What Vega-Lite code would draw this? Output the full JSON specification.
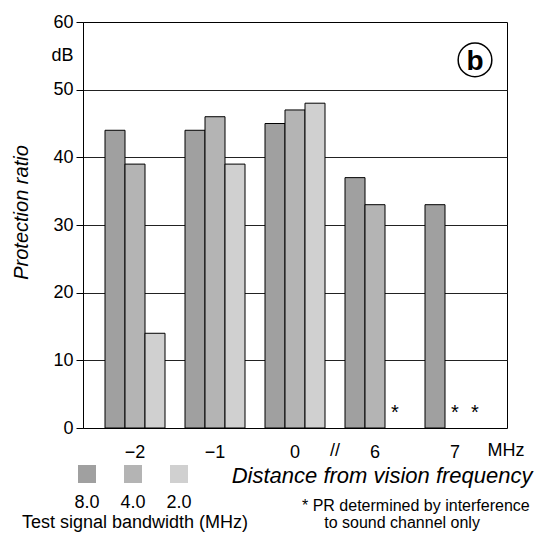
{
  "$schema": "https://vega.github.io/schema/vega-lite/v6.json",
  "width": 424,
  "height": 406,
  "autosize": "none",
  "padding": {"left": 83, "top": 22, "right": 32, "bottom": 106},
  "background": "white",
  "config": {
    "font": "Liberation Sans",
    "view": {"stroke": "black", "strokeWidth": 1},
    "axis": {"labelColor": "black", "titleColor": "black", "labelFont": "Liberation Sans", "titleFont": "Liberation Sans"}
  },
  "title": {
    "text": ["* PR determined by interference", "\u200b\u00a0\u00a0\u00a0\u00a0\u00a0to sound channel only"],
    "orient": "bottom",
    "anchor": "start",
    "frame": "group",
    "dx": 219,
    "offset": -34,
    "fontSize": 16,
    "fontWeight": "normal",
    "font": "Liberation Sans",
    "color": "black",
    "align": "left",
    "lineHeight": 17
  },
  "data": {
    "values": [
      {"dist": "−2", "bw": "8.0", "pr": 44},
      {"dist": "−2", "bw": "4.0", "pr": 39},
      {"dist": "−2", "bw": "2.0", "pr": 14},
      {"dist": "−1", "bw": "8.0", "pr": 44},
      {"dist": "−1", "bw": "4.0", "pr": 46},
      {"dist": "−1", "bw": "2.0", "pr": 39},
      {"dist": "0", "bw": "8.0", "pr": 45},
      {"dist": "0", "bw": "4.0", "pr": 47},
      {"dist": "0", "bw": "2.0", "pr": 48},
      {"dist": "6", "bw": "8.0", "pr": 37},
      {"dist": "6", "bw": "4.0", "pr": 33},
      {"dist": "6", "bw": "2.0", "pr": null, "note": "*"},
      {"dist": "7", "bw": "8.0", "pr": 33},
      {"dist": "7", "bw": "4.0", "pr": null, "note": "*"},
      {"dist": "7", "bw": "2.0", "pr": null, "note": "*"}
    ]
  },
  "encoding": {
    "x": {
      "field": "dist",
      "type": "nominal",
      "scale": {"domain": ["−2", "−1", "0", "6", "7"], "paddingInner": 0.25, "paddingOuter": 0.275},
      "axis": {
        "title": "Distance from vision frequency",
        "titleFontSize": 22,
        "titleFontStyle": "italic",
        "titleFontWeight": "normal",
        "titleAlign": "right",
        "titleAnchor": "end",
        "titleBaseline": "alphabetic",
        "titleX": 449,
        "titleY": 54,
        "titleLimit": 400,
        "domain": false,
        "ticks": false,
        "labelAngle": 0,
        "labelFontSize": 18,
        "labelPadding": 15
      }
    },
    "xOffset": {
      "field": "bw",
      "type": "nominal",
      "scale": {"domain": ["8.0", "4.0", "2.0"], "paddingInner": 0, "paddingOuter": 0}
    }
  },
  "layer": [
    {
      "transform": [{"filter": "datum.pr != null"}],
      "mark": {"type": "bar", "stroke": "black", "strokeWidth": 1},
      "encoding": {
        "y": {
          "field": "pr",
          "type": "quantitative",
          "scale": {"domain": [0, 60], "nice": false},
          "axis": {
            "title": "Protection ratio",
            "titleFontSize": 20,
            "titleFontStyle": "italic",
            "titleFontWeight": "normal",
            "titleAngle": 270,
            "titleAlign": "center",
            "titleBaseline": "middle",
            "titleX": -62,
            "titleY": 190,
            "values": [0, 10, 20, 30, 40, 50, 55, 60],
            "labelExpr": "datum.value == 55 ? 'dB\u00a0' : datum.label",
            "labelFontSize": 18,
            "labelPadding": 3,
            "tickSize": 7,
            "tickColor": "black",
            "tickOpacity": {"condition": {"test": "datum.value == 55", "value": 0}, "value": 1},
            "domainColor": "black",
            "grid": true,
            "gridColor": "#222222",
            "gridWidth": 1,
            "gridOpacity": {"condition": {"test": "datum.value == 55 || datum.value == 0 || datum.value == 60", "value": 0}, "value": 1}
          }
        },
        "fill": {
          "field": "bw",
          "type": "nominal",
          "scale": {"domain": ["8.0", "4.0", "2.0"], "range": ["#a0a0a0", "#b4b4b4", "#d0d0d0"]},
          "legend": {
            "orient": "none",
            "legendX": -61,
            "legendY": 443,
            "direction": "horizontal",
            "title": "Test signal bandwidth (MHz)",
            "titleOrient": "bottom",
            "titleAnchor": "middle",
            "titleFontSize": 18,
            "titleFontWeight": "normal",
            "titleFont": "Liberation Sans",
            "titleColor": "black",
            "titlePadding": 2,
            "titleLimit": 400,
            "symbolType": "square",
            "symbolSize": 324,
            "symbolStrokeWidth": 0,
            "labelFontSize": 18,
            "labelFont": "Liberation Sans",
            "labelColor": "black",
            "labelAlign": "center",
            "labelBaseline": "top",
            "labelOffset": -9,
            "labelExpr": "['', datum.label]",
            "columnPadding": 20,
            "padding": 0
          }
        }
      }
    },
    {
      "transform": [{"filter": "datum.note == '*'"}],
      "mark": {"type": "text", "fontSize": 20, "baseline": "alphabetic", "dy": -9, "color": "black"},
      "encoding": {
        "y": {"datum": 0, "type": "quantitative"},
        "text": {"field": "note"}
      }
    },
    {
      "data": {"values": [{"label": "//", "dist": "0"}]},
      "mark": {"type": "text", "fontSize": 18, "baseline": "middle", "dx": 40, "dy": 23, "color": "black"},
      "encoding": {
        "xOffset": null,
        "y": {"datum": 0, "type": "quantitative"},
        "text": {"field": "label"}
      }
    },
    {
      "data": {"values": [{"label": "MHz", "dist": "7"}]},
      "mark": {"type": "text", "fontSize": 18, "baseline": "middle", "dx": 51, "dy": 23, "color": "black"},
      "encoding": {
        "xOffset": null,
        "y": {"datum": 0, "type": "quantitative"},
        "text": {"field": "label"}
      }
    },
    {
      "data": {"values": [{"panel": "b", "dist": "7", "bw": "2.0", "pos": 54.4}]},
      "mark": {"type": "point", "shape": "circle", "size": 1134, "filled": false, "stroke": "black", "strokeWidth": 1.5, "opacity": 1},
      "encoding": {
        "y": {"field": "pos", "type": "quantitative"}
      }
    },
    {
      "data": {"values": [{"panel": "b", "dist": "7", "bw": "2.0", "pos": 54.4}]},
      "mark": {"type": "text", "fontSize": 28, "fontWeight": "bold", "baseline": "alphabetic", "dy": 10, "color": "black"},
      "encoding": {
        "y": {"field": "pos", "type": "quantitative"},
        "text": {"field": "panel"}
      }
    }
  ]
}
